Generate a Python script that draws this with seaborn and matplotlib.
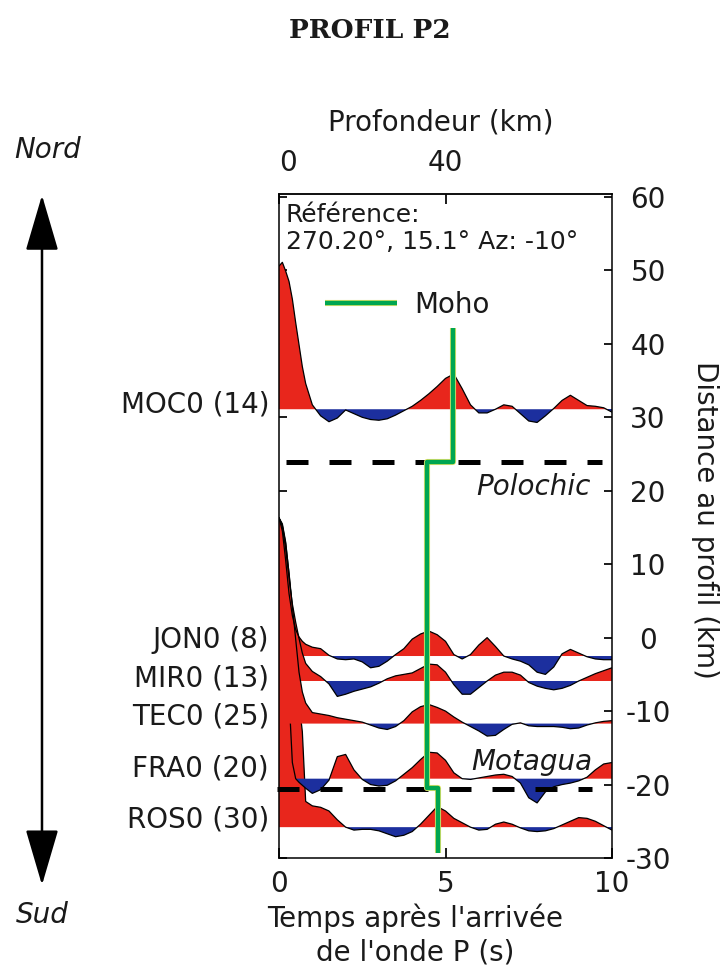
import numpy as np
import pandas as pd
import matplotlib.pyplot as plt
import matplotlib.patheffects as pe
from matplotlib.patches import FancyArrowPatch
import seaborn as sns

sns.set_theme(style='white')
plt.rcParams['font.family'] = ['DejaVu Sans']
plt.rcParams['axes.unicode_minus'] = False

# time after P arrival (s)
times = [0, 0.1, 0.2, 0.3, 0.4, 0.5, 0.6, 0.7, 0.8, 1.0,
         1.25, 1.5, 1.75, 2.0, 2.25, 2.5, 2.75, 3.0, 3.25, 3.5,
         3.75, 4.0, 4.25, 4.5, 4.75, 5.0, 5.25, 5.5, 5.75, 6.0,
         6.25, 6.5, 6.75, 7.0, 7.25, 7.5, 7.75, 8.0, 8.25, 8.5,
         8.75, 9.0, 9.25, 9.5, 9.75, 10.0]

# stations, number of traces, distance to profile (km)
stations = ['MOC0', 'JON0', 'MIR0', 'TEC0', 'FRA0', 'ROS0']
n_events = [14, 8, 13, 25, 20, 30]
distances = [31.1, -2.5, -5.9, -11.7, -19.2, -25.8]
label_dist = [31.7, -0.3, -5.5, -10.8, -17.8, -24.8]

# stacked receiver functions, already scaled to km on the plot
moc0 = [19.5, 20.0, 18.8, 17.4, 15.0, 11.8, 8.8, 5.8, 3.5, 0.6,
        -0.9, -1.7, -1.2, -0.1, -0.6, -1.1, -1.4, -1.5, -1.3, -0.8,
        -0.2, 0.4, 1.2, 2.1, 3.1, 4.2, 4.8, 2.8, 0.6, -0.5,
        -0.5, 0.0, 0.6, 0.4, -0.6, -1.6, -1.8, -0.9, 0.1, 1.2,
        1.9, 1.2, 0.5, 0.4, 0.2, -0.4]
jon0 = [18.8, 17.0, 13.0, 8.5, 5.5, 3.6, 2.6, 2.0, 1.6, 1.2,
        1.0, 0.1, -0.4, -0.5, -0.4, -0.8, -1.6, -1.4, -0.7, 0.2,
        1.0, 2.3, 3.0, 3.4, 2.9, 2.0, 0.2, -0.4, 0.2, 1.5,
        2.5, 1.3, 0.0, -0.4, -0.7, -1.2, -2.2, -2.5, -1.5, 0.3,
        0.9, 0.4, -0.1, -0.4, -0.5, -0.5]
mir0 = [22.2, 21.0, 18.0, 14.0, 10.5, 8.0, 5.8, 3.8, 2.4, 1.3,
        0.6, -0.4, -2.1, -1.8, -1.4, -1.1, -0.8, -0.3, 0.3, 0.7,
        0.9, 1.1, 1.7, 2.3, 2.2, 1.2, -0.5, -1.8, -1.8, -0.9,
        0.0, 0.8, 1.2, 1.2, 0.8, -0.2, -0.7, -1.0, -1.2, -1.0,
        -0.6, 0.0, 0.5, 1.0, 1.4, 1.8]
tec0 = [28.0, 27.0, 24.5, 20.5, 16.0, 11.5, 7.0, 4.3, 2.8, 1.5,
        1.3, 1.1, 0.8, 0.6, 0.4, 0.2, -0.2, -0.6, -0.8, -0.4,
        0.4, 1.6, 2.3, 2.6, 2.2, 1.7, 0.9, 0.2, -0.4, -1.0,
        -1.7, -1.6, -0.8, -0.1, 0.1, -0.3, -0.4, -0.4, -0.4, -0.5,
        -0.7, -0.6, -0.2, 0.1, 0.3, 0.4]
fra0 = [35.5, 34.2, 28.2, 11.2, 2.2, 0.0, -0.5, -0.9, -1.3, -2.0,
        -1.5, -0.2, 3.0, 3.3, 1.2, -0.1, -0.8, -1.0, -0.9, -0.3,
        0.6, 1.5, 2.6, 3.6, 3.5, 2.5, 0.8, 0.0, -0.1, 0.1,
        0.3, 0.5, 0.6, 0.3, -0.6, -2.6, -3.3, -1.8, -1.1, -0.8,
        -0.6, -0.3, 0.2, 1.2, 2.0, 2.2]
ros0 = [42.1, 41.3, 38.8, 34.5, 29.5, 23.5, 17.0, 13.0, 3.5, 2.9,
        2.7, 2.2, 1.0, 0.0, -0.4, -0.3, -0.3, -0.5, -0.9, -1.3,
        -1.1, -0.6, 0.4, 1.6, 2.8, 2.2, 1.2, 0.6, 0.0, -0.4,
        -0.3, 0.4, 0.7, 0.4, -0.1, -0.5, -0.6, -0.5, -0.2, 0.3,
        0.8, 1.3, 1.2, 0.8, 0.2, -0.4]
traces = [moc0, jon0, mir0, tec0, fra0, ros0]

# Moho pick (time s, distance km)
moho_time = [5.22, 5.22, 4.43, 4.43, 4.77, 4.77]
moho_dist = [42.2, 23.9, 23.9, -20.5, -20.5, -29.3]

# faults
faults = ['Polochic', 'Motagua']
fault_dist = [23.9, -20.6]
fault_tmin = [0.2, -0.07]
fault_tmax = [9.7, 9.4]

RED = '#e8261c'
BLUE = '#1c2f9e'
INK = '#1a1a1a'

fig = plt.figure(figsize=(7.24, 9.76), dpi=100)
ax = fig.add_axes([0.3854, 0.1209, 0.4599, 0.6803])
t = np.array(times)

# draw from the southern station up, so upper fills cover lower first peaks
for k, (name, d, amp) in enumerate(reversed(list(zip(stations, distances, traces)))):
    a = np.array(amp)
    z = 2 + 0.1 * k
    ax.fill_between(t, d, d + a, where=a >= 0, interpolate=True,
                    color=RED, lw=0, zorder=z)
    ax.fill_between(t, d, d + a, where=a <= 0, interpolate=True,
                    color=BLUE, lw=0, zorder=z)
    df = pd.DataFrame({'t': t, 'y': d + a})
    line_z = z + 0.05 if d < -15 else 3.5
    sns.lineplot(data=df, x='t', y='y', color='black', lw=0.9,
                 estimator=None, sort=False, ax=ax, zorder=line_z)

# faults
for name, d, t0, t1 in zip(faults, fault_dist, fault_tmin, fault_tmax):
    ax.plot([t0, t1], [d, d], color='black', lw=3.6, dashes=(4.4, 4.2),
            zorder=4, clip_on=False)
ax.text(7.63, 20.5, 'Polochic', style='italic', fontsize=20, color=INK,
        ha='center', va='center', zorder=6)
ax.text(7.58, -16.9, 'Motagua', style='italic', fontsize=20, color=INK,
        ha='center', va='center', zorder=6)

# Moho
ax.plot(moho_time, moho_dist, color='#00a651', lw=3.2, solid_capstyle='butt',
        path_effects=[pe.Stroke(linewidth=4.4, foreground='#e9e56a'), pe.Normal()],
        label='Moho', zorder=5)
ax.legend(loc='center left', bbox_to_anchor=(0.138, 0.833), frameon=False,
          fontsize=20, handlelength=2.6, handletextpad=0.6, borderpad=0,
          borderaxespad=0, labelcolor=INK)

ax.text(0.02, 0.986, 'Référence:\n270.20°, 15.1° Az: -10°', transform=ax.transAxes,
        ha='left', va='top', fontsize=18, color=INK, linespacing=1.15, zorder=6)

# station labels
for name, n, yl in zip(stations, n_events, label_dist):
    ax.text(-0.03, yl, f'{name} ({n})', transform=ax.get_yaxis_transform(),
            ha='right', va='center', fontsize=20, color=INK)

ax.set_xlim(0, 10)
ax.set_ylim(-30.0, 60.4)
ax.set_xticks([0, 5, 10])
ax.set_yticks(range(-30, 61, 10))
ax.set_xlabel('')
ax.set_ylabel('')
ax.tick_params(axis='x', bottom=True, top=False, direction='in', length=7,
               pad=8.5, labelsize=20, labelcolor=INK, color='black')
ax.tick_params(axis='y', left=True, right=True, labelleft=False, labelright=True,
               direction='in', length=6, pad=26, labelsize=20, labelcolor=INK,
               color='black')
for tick in ax.yaxis.get_major_ticks():
    tick.label2.set_horizontalalignment('center')
for sp in ax.spines.values():
    sp.set_color('black')
    sp.set_linewidth(1.1)

secax = ax.secondary_xaxis('top', functions=(lambda x: x * 8, lambda x: x / 8))
secax.set_xticks([0, 40])
secax.tick_params(direction='in', length=7, pad=12, labelsize=20,
                  labelcolor=INK, color='black')
first_tick = secax.xaxis.get_major_ticks()[0]
first_tick.label1.set_horizontalalignment('left')
first_tick.label2.set_horizontalalignment('left')
secax.spines['top'].set_linewidth(1.1)

fig.text(0.511, 0.969, 'PROFIL P2', family='DejaVu Serif', weight='bold',
         fontsize=19, ha='center', va='center', color=INK)
fig.text(0.609, 0.875, 'Profondeur (km)', fontsize=20, ha='center', va='center', color=INK)
fig.text(0.974, 0.467, 'Distance au profil (km)', fontsize=20, rotation=270,
         ha='center', va='center', color=INK)
fig.text(0.573, 0.042, "Temps après l'arrivée\nde l'onde P (s)", fontsize=20,
         ha='center', va='center', linespacing=1.22, color=INK)
fig.text(0.066, 0.846, 'Nord', style='italic', fontsize=20, ha='center', va='center', color=INK)
fig.text(0.059, 0.0625, 'Sud', style='italic', fontsize=20, ha='center', va='center', color=INK)

arrow = FancyArrowPatch((0.058, 0.0932), (0.058, 0.800), transform=fig.transFigure,
                        arrowstyle='<|-|>,head_length=1.6,head_width=0.47',
                        mutation_scale=22, lw=1.8, color='black',
                        shrinkA=0, shrinkB=0)
fig.add_artist(arrow)

fig.savefig('out.png', dpi=100)
